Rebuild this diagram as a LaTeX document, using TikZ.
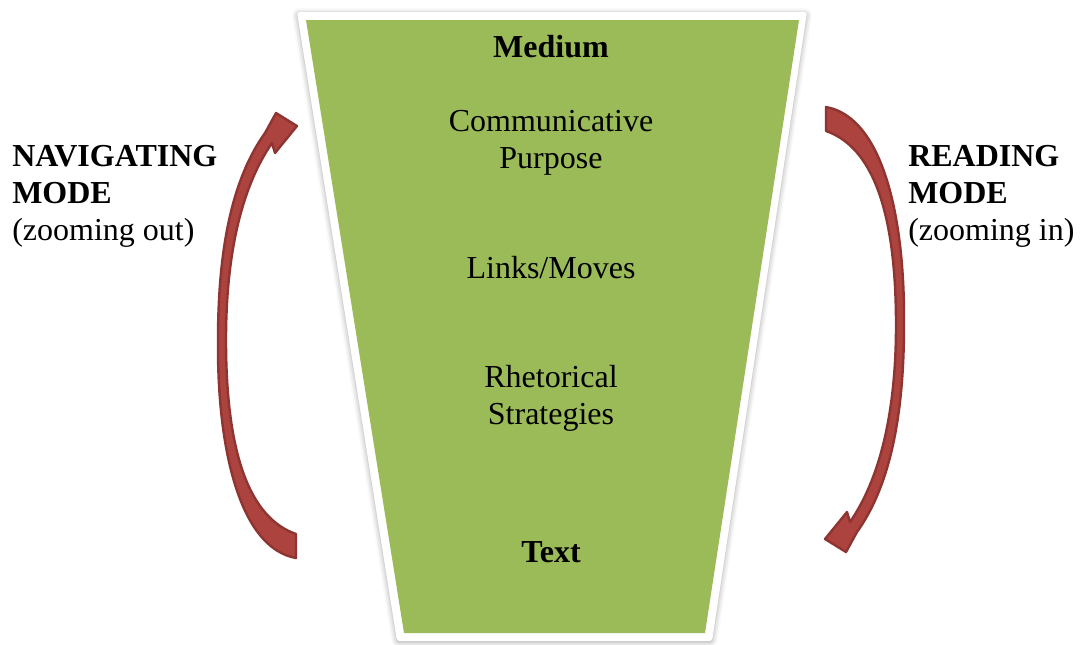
\documentclass[tikz,border=0pt]{standalone}
\usepackage{fontspec}
\setmainfont{Liberation Serif}
\usetikzlibrary{shadows.blur}
\definecolor{funnelgreen}{HTML}{9BBB59}
\definecolor{arrowfill}{HTML}{AC433E}
\definecolor{arrowline}{HTML}{8E3532}
\tikzset{
  label/.style={font=\fontsize{24}{27.5}\selectfont, inner sep=0pt},
  bold label/.style={label, font=\fontsize{24}{27.5}\selectfont\bfseries},
  modearrow/.style={fill=arrowfill, draw=arrowline, line width=1.8pt, line join=round},
}
% curved arrow, drawn going up on the left hand side
\def\curvedarrow#1{\draw[#1] (296,558)
  .. controls (240,548) and (217,450) .. (218,340)
  .. controls (218,240) and (235,175) .. (265,133)
  -- (276,113) -- (297,126) -- (275,153) -- (272,143)
  .. controls (243,185) and (226,250) .. (226,340)
  .. controls (226,455) and (250,518) .. (296,534) -- cycle;}

\begin{document}
\begin{tikzpicture}[x=0.75pt, y=-0.75pt]
		\useasboundingbox (0,0) rectangle (1085,644);
		
		% funnel
		\fill[white, rounded corners=2pt, blur shadow={shadow xshift=0pt, shadow yshift=-1pt, shadow blur radius=4pt, shadow opacity=35}]
			(297,12) -- (807,12) -- (712,641) -- (397,641) -- cycle;
		\fill[funnelgreen] (306,20) -- (799,20) -- (705,633) -- (404,633) -- cycle;
		
		% multi-line nodes sit on the baseline of their last line
		\node[bold label, anchor=base] (medium) at (551,57) {Medium};
		\node[label, anchor=base, align=center] (purpose) at (551,168) {Communicative\\Purpose};
		\node[label, anchor=base] (links) at (551,278) {Links/Moves};
		\node[label, anchor=base, align=center] (strategies) at (551,424) {Rhetorical\\Strategies};
		\node[bold label, anchor=base] (text) at (551,562) {Text};
		
		% modes
		\node[label, anchor=base west, align=left] (navigating) at (12,240) {\textbf{NAVIGATING}\\\textbf{MODE}\\(zooming out)};
		\node[label, anchor=base west, align=left] (reading) at (908,240) {\textbf{READING}\\\textbf{MODE}\\(zooming in)};
		
		\curvedarrow{modearrow}
		\begin{scope}[shift={(1122,665)}, xscale=-1, yscale=-1]
			\curvedarrow{modearrow}
		\end{scope}
	\end{tikzpicture}
\end{document}
